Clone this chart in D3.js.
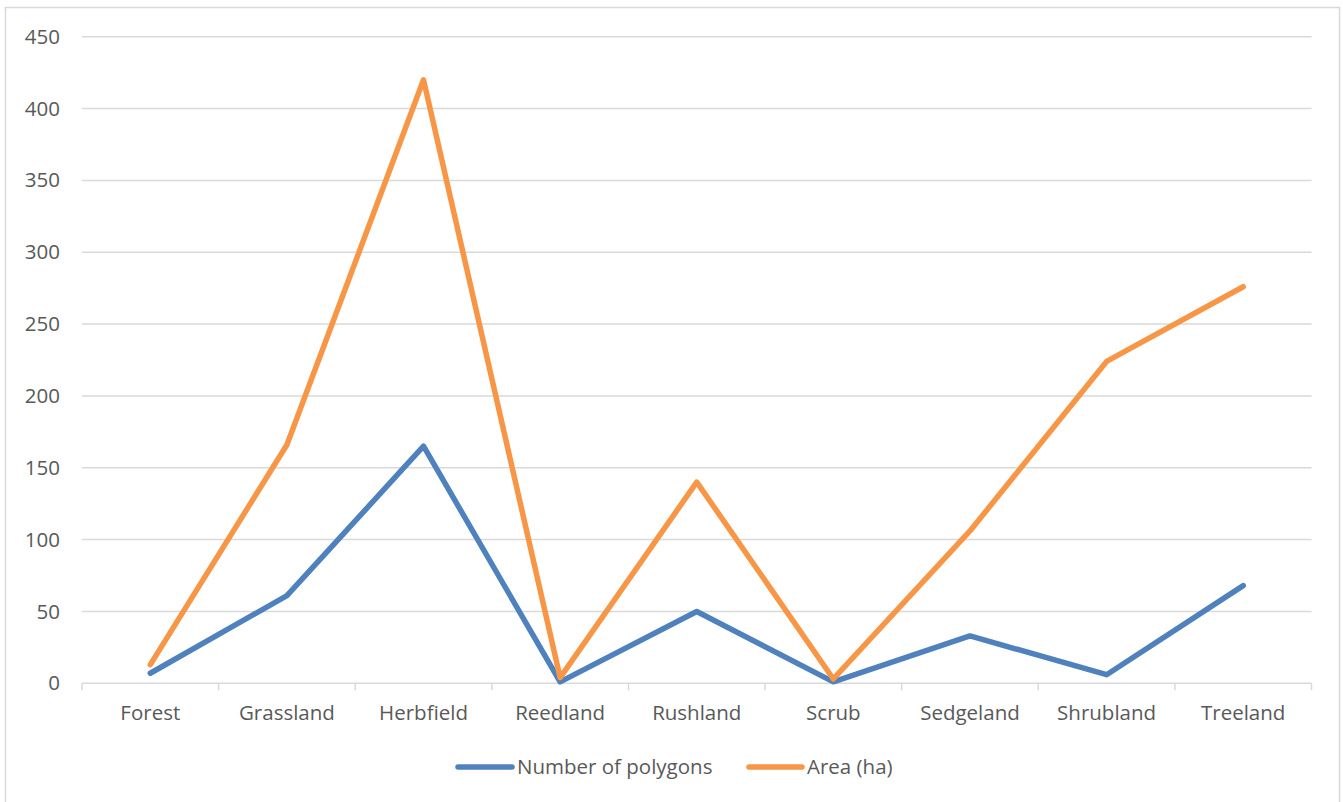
<!DOCTYPE html>
<html>
<head>
<meta charset="utf-8">
<script src="https://cdn.jsdelivr.net/npm/d3@7"></script>
<style>
  html, body { margin: 0; padding: 0; background: #fff; }
  svg { display: block; font-family: "Open Sans", "Noto Sans", sans-serif; }
</style>
</head>
<body>
<svg id="chart" width="1343" height="802"></svg>
<script>
const categories = ["Forest", "Grassland", "Herbfield", "Reedland", "Rushland", "Scrub", "Sedgeland", "Shrubland", "Treeland"];
const polygons = [7, 61, 165, 1, 50, 1, 33, 6, 68];
const area = [13, 166, 420, 4, 140, 3, 106, 224, 276];
const yTicks = [0, 50, 100, 150, 200, 250, 300, 350, 400, 450];
const seriesNames = ["Number of polygons", "Area (ha)"];
const seriesColors = ["#4F81BD", "#F79646"];

(function () {
const svg = d3.select("#chart");
const mLeft = 82, mRight = 1311.5, mTop = 36.7, mBottom = 683.3;
const fs = "20.5px";

// outer frame
svg.append("path")
  .attr("d", `M5.5,802 V7.5 H1339.5 V802`)
  .attr("fill", "none").attr("stroke", "#d9d9d9").attr("stroke-width", 1.5);

const x = d3.scaleBand().domain(categories).range([mLeft, mRight]).paddingInner(0).paddingOuter(0);
const y = d3.scaleLinear().domain([0, 450]).range([mBottom, mTop]);

// gridlines
svg.append("g").selectAll("line").data(yTicks.filter(d => d > 0)).join("line")
  .attr("x1", mLeft).attr("x2", mRight)
  .attr("y1", d => y(d)).attr("y2", d => y(d))
  .attr("stroke", "#d9d9d9").attr("stroke-width", 1.5);

// y axis labels
const yAxis = d3.axisLeft(y).tickValues(yTicks).tickSize(0).tickPadding(22);
const gy = svg.append("g").attr("transform", `translate(${mLeft},0)`).call(yAxis);
gy.select(".domain").remove();
gy.selectAll("text").attr("fill", "#595959").style("font-size", fs)
  .style("font-family", "'Open Sans', sans-serif");

// x axis
const gx = svg.append("g").attr("transform", `translate(0,${mBottom})`);
gx.append("line").attr("x1", mLeft).attr("x2", mRight).attr("y1", 0).attr("y2", 0)
  .attr("stroke", "#d9d9d9").attr("stroke-width", 1.5);
const bounds = categories.map(c => x(c)).concat([x(categories[categories.length - 1]) + x.bandwidth()]);
gx.selectAll("line.tick").data(bounds).join("line").attr("class", "tick")
  .attr("x1", d => d).attr("x2", d => d).attr("y1", 0).attr("y2", 7)
  .attr("stroke", "#d9d9d9").attr("stroke-width", 1.5);
gx.selectAll("text").data(categories).join("text")
  .attr("x", d => x(d) + x.bandwidth() / 2).attr("y", 37)
  .attr("text-anchor", "middle").attr("fill", "#595959")
  .style("font-size", fs).text(d => d);

// lines
const line = d3.line().x((d, i) => x(categories[i]) + x.bandwidth() / 2).y(d => y(d));
[polygons, area].forEach((s, k) => {
  svg.append("path").datum(s).attr("d", line)
    .attr("fill", "none").attr("stroke", seriesColors[k]).attr("stroke-width", 5.5)
    .attr("stroke-linejoin", "round").attr("stroke-linecap", "round");
});

// legend
const legendItems = [{x0: 458, x1: 512, tx: 517}, {x0: 749, x1: 802, tx: 807}];
const lg = svg.append("g");
seriesNames.forEach((n, k) => {
  const it = legendItems[k];
  lg.append("line").attr("x1", it.x0).attr("x2", it.x1).attr("y1", 767).attr("y2", 767)
    .attr("stroke", seriesColors[k]).attr("stroke-width", 5.5).attr("stroke-linecap", "round");
  lg.append("text").attr("x", it.tx).attr("y", 767).attr("dy", "0.35em")
    .attr("fill", "#595959").style("font-size", fs).text(n);
});
})();
</script>
</body>
</html>
